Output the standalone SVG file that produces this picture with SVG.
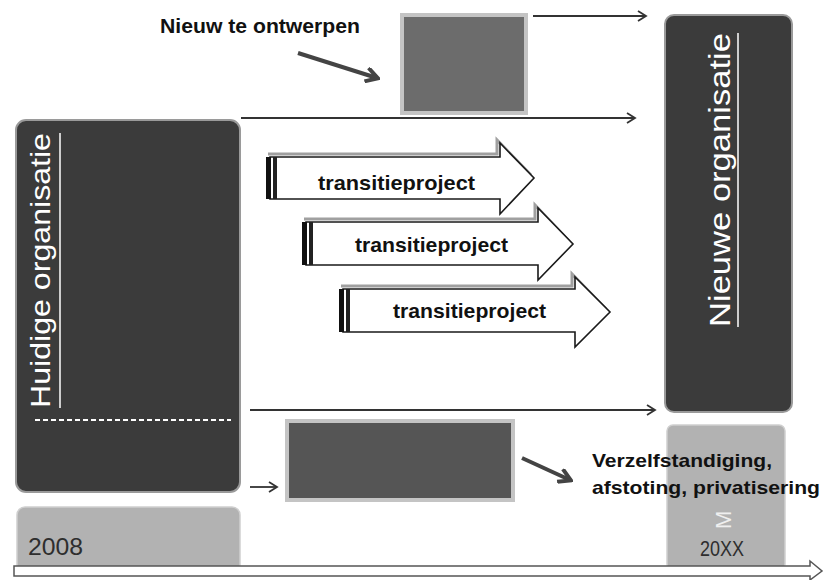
<svg xmlns="http://www.w3.org/2000/svg" width="826" height="580" viewBox="0 0 826 580">
<defs>
<style>
.dark{fill:#3b3b3b;stroke:#9a9a9a;stroke-width:2}
.light{fill:#b2b2b2;stroke:#cfcfcf;stroke-width:1.5}
.mid{fill:#6c6c6c;stroke:#c4c4c4;stroke-width:4}
.mid2{fill:#555;stroke:#c4c4c4;stroke-width:4}
.conn{fill:none;stroke:#333;stroke-width:1.8}
.thick{fill:none;stroke:#444;stroke-width:4}
.lbl{font-family:"Liberation Sans",Arial,sans-serif;font-weight:bold;fill:#111}
.white{font-family:"Liberation Sans",Arial,sans-serif;fill:#fff}
.year{font-family:"Liberation Sans",Arial,sans-serif;fill:#2e2e2e}
.tp{fill:#fff;stroke:#1a1a1a;stroke-width:1.6}
.tpsh{fill:none;stroke:#a0a0a0;stroke-width:3}
</style>
<marker id="open" markerWidth="12" markerHeight="12" refX="10" refY="6" orient="auto" markerUnits="userSpaceOnUse">
<path d="M2,1 L10,6 L2,11" fill="none" stroke="#333" stroke-width="1.8"/>
</marker>
<marker id="bold" markerWidth="16" markerHeight="16" refX="13" refY="8" orient="auto" markerUnits="userSpaceOnUse">
<path d="M2,1 L14,8 L2,15" fill="none" stroke="#444" stroke-width="4"/>
</marker>
</defs>
<rect width="826" height="580" fill="#fff"/>

<g id="huidige">
<rect class="dark" x="16" y="120" width="224" height="372" rx="10"/>
<text class="white" font-size="28" transform="translate(50,408) rotate(-90)" textLength="275" lengthAdjust="spacingAndGlyphs">Huidige organisatie</text>
<line x1="60" y1="133" x2="60" y2="408" stroke="#fff" stroke-width="1.5"/>
<line x1="35" y1="420" x2="231" y2="420" stroke="#fff" stroke-width="2" stroke-dasharray="5,3"/>
</g>

<g id="year2008">
<rect class="light" x="17" y="507" width="223" height="66" rx="8"/>
<text class="year" font-size="24" x="28" y="555" textLength="55" lengthAdjust="spacingAndGlyphs">2008</text>
</g>

<g id="nieuwe">
<rect class="dark" x="665" y="15" width="127" height="397" rx="9"/>
<text class="white" font-size="30" transform="translate(730,327) rotate(-90)" textLength="294" lengthAdjust="spacingAndGlyphs">Nieuwe organisatie</text>
<line x1="738" y1="33" x2="738" y2="327" stroke="#fff" stroke-width="1.5"/>
</g>

<g id="year20xx">
<rect class="light" x="667" y="425" width="118" height="145" rx="6"/>
<text class="white" font-size="22" opacity="0.8" transform="translate(731,529) rotate(-90)">M</text>
<text class="year" font-size="22" x="700" y="556" textLength="44" lengthAdjust="spacingAndGlyphs">20XX</text>
</g>

<g id="ontwerpen">
<rect class="mid" x="402" y="15" width="124" height="98"/>
<text class="lbl" font-size="20" x="160" y="33" textLength="200" lengthAdjust="spacingAndGlyphs">Nieuw te ontwerpen</text>
</g>

<g id="afstoten">
<rect class="mid2" x="287" y="421" width="226" height="79"/>
<text class="lbl" font-size="19" x="592" y="467" textLength="180" lengthAdjust="spacingAndGlyphs">Verzelfstandiging,</text>
<text class="lbl" font-size="19" x="592" y="494" textLength="228" lengthAdjust="spacingAndGlyphs">afstoting, privatisering</text>
</g>

<g id="tp1">
<path class="tpsh" d="M268,154 H497 V140 L531,175"/>
<path class="tp" d="M270,157 H500 V143 L534,178 L500,214 V199 H270 Z"/>
<rect x="266" y="157" width="5" height="42" fill="#111"/>
<rect x="273" y="157" width="4" height="42" fill="#222"/>
<text class="lbl" font-size="21" x="318" y="190" textLength="157" lengthAdjust="spacingAndGlyphs">transitieproject</text>
</g>

<g id="tp2">
<path class="tpsh" d="M304,219 H535 V205 L569,241"/>
<path class="tp" d="M306,222 H538 V208 L573,244 L538,280 V265 H306 Z"/>
<rect x="302" y="222" width="5" height="43" fill="#111"/>
<rect x="309" y="222" width="4" height="43" fill="#222"/>
<text class="lbl" font-size="21" x="355" y="252" textLength="153" lengthAdjust="spacingAndGlyphs">transitieproject</text>
</g>

<g id="tp3">
<path class="tpsh" d="M341,286 H572 V274 L606,309"/>
<path class="tp" d="M343,289 H575 V277 L610,312 L575,347 V332 H343 Z"/>
<rect x="339" y="289" width="5" height="43" fill="#111"/>
<rect x="346" y="289" width="4" height="43" fill="#222"/>
<text class="lbl" font-size="21" x="393" y="318" textLength="153" lengthAdjust="spacingAndGlyphs">transitieproject</text>
</g>

<g id="connectors">
<line class="conn" x1="533" y1="16" x2="646" y2="16" marker-end="url(#open)"/>
<line class="conn" x1="241" y1="118" x2="635" y2="118" marker-end="url(#open)"/>
<line class="conn" x1="250" y1="410" x2="655" y2="410" marker-end="url(#open)"/>
<line class="conn" x1="250" y1="487" x2="277" y2="487" marker-end="url(#open)"/>
<line class="thick" x1="298" y1="53" x2="377" y2="78" marker-end="url(#bold)"/>
<line class="thick" x1="522" y1="458" x2="570" y2="480" marker-end="url(#bold)"/>
<path d="M14,566 H810 V561 L822,571 L810,580 V576 H14 Z" fill="#fff" stroke="#555" stroke-width="1.5"/>
</g>
</svg>
